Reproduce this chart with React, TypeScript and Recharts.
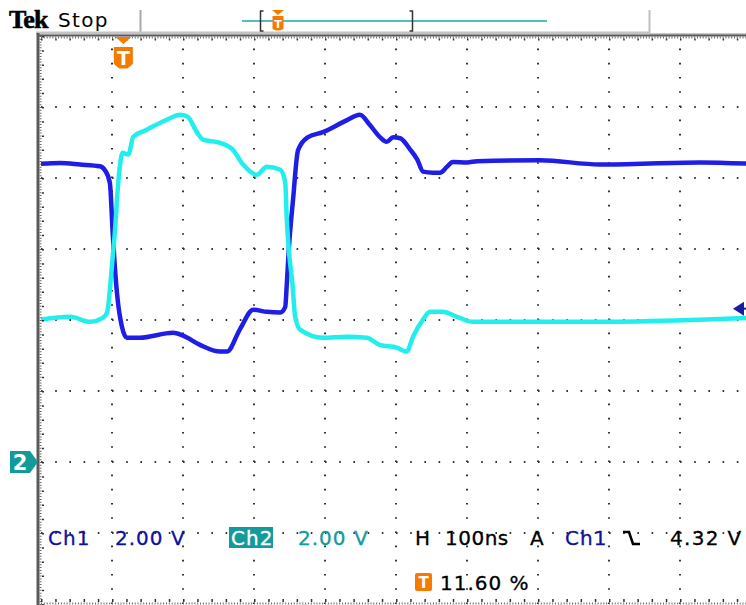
import React from "react";
import { LineChart, Line, XAxis, YAxis, ReferenceLine } from "recharts";

// Horizontal: 10 divisions at 100 ns/div. Vertical: both channels 2 V/div, ground 2 div below centre.
const TIME_TICKS_NS = [0, 100, 200, 300, 400, 500, 600, 700, 800, 900, 1000];
const VOLT_TICKS = [-4, -2, 0, 2, 4, 6, 8, 10, 12];

// Ch1 (blue) acquisition samples
const CH1_TIME_NS = [0, 27, 55, 83, 90, 97, 101, 104, 108, 114, 121, 139, 186, 200, 224, 252, 262, 280, 299, 318, 337, 344, 346, 349, 355, 362, 375, 397, 431, 449, 463, 477, 487, 496, 506, 520, 530, 538, 552, 562, 572, 580, 600, 614, 703, 787, 928, 1000];
const CH1_VOLTS = [8.4, 8.42, 8.38, 8.33, 8.22, 7.86, 6.45, 5.5, 4.57, 3.81, 3.5, 3.5, 3.64, 3.56, 3.3, 3.11, 3.11, 3.73, 4.29, 4.23, 4.21, 4.37, 4.94, 5.98, 7.39, 8.78, 9.14, 9.29, 9.63, 9.78, 9.5, 9.16, 9.02, 9.15, 9.12, 8.8, 8.52, 8.18, 8.15, 8.15, 8.32, 8.45, 8.44, 8.47, 8.5, 8.38, 8.44, 8.4];

// Ch2 (cyan) acquisition samples
const CH2_TIME_NS = [0, 41, 69, 87, 93, 97, 101, 104, 107, 111, 115, 123, 130, 149, 177, 196, 206, 220, 228, 252, 270, 285, 304, 318, 337, 344, 346, 349, 354, 358, 365, 397, 431, 459, 477, 501, 515, 524, 538, 548, 566, 586, 608, 787, 928, 1000];
const CH2_VOLTS = [4.01, 4.09, 3.95, 4.06, 4.21, 4.85, 5.78, 6.46, 7.39, 8.32, 8.71, 8.66, 9.16, 9.36, 9.64, 9.78, 9.73, 9.28, 9.08, 8.99, 8.8, 8.37, 8.09, 8.32, 8.23, 7.87, 6.91, 5.98, 5.05, 4.09, 3.73, 3.5, 3.53, 3.5, 3.3, 3.22, 3.11, 3.53, 4.01, 4.23, 4.23, 4.09, 3.95, 3.95, 4.01, 4.06];

// Readout settings
const CH1_SCALE = "2.00 V";
const CH2_SCALE = "2.00 V";
const TIMEBASE = "100ns";
const TRIGGER_SOURCE = "Ch1";
const TRIGGER_LEVEL_V = 4.32;
const TRIGGER_POSITION_PCT = 11.6;

const ch1Data = CH1_TIME_NS.map((t, i) => ({ t, v: CH1_VOLTS[i] }));
const ch2Data = CH2_TIME_NS.map((t, i) => ({ t, v: CH2_VOLTS[i] }));

// Screen geometry of the graticule
const W = 746;
const H = 605;
const PLOT_LEFT = 41;
const PLOT_TOP = 36;
const DIV = 71;
const PLOT_W = DIV * 10;
const PLOT_H = DIV * 8;
const vToY = (v: number) => PLOT_TOP + PLOT_H - ((v + 4) / 16) * PLOT_H;

const FONT = "'DejaVu Sans', Verdana, sans-serif";
const BLUE_TRACE = "#1e1ee6";
const CYAN_TRACE = "#22eeee";
const BLUE_TEXT = "#10109c";
const TEAL = "#139b9b";
const ORANGE = "#f57b00";
const DOT = 71 / 5;

function Overlay() {
  const trigX = PLOT_LEFT + (TRIGGER_POSITION_PCT / 100) * PLOT_W;
  const lvlY = vToY(TRIGGER_LEVEL_V);
  const gndY = vToY(0);
  const textStyle = { fontFamily: FONT, fontSize: 20, letterSpacing: 1, stroke: "currentColor", strokeWidth: 0.3 } as const;
  return (
    <svg width={W} height={H} style={{ position: "absolute", left: 0, top: 0, pointerEvents: "none" }}>
      {/* header */}
      <text x={9} y={28} fontFamily="'Liberation Serif', serif" fontWeight="bold" fontSize={26} letterSpacing={-0.8} fill="#000" stroke="#000" strokeWidth={0.6}>Tek</text>
      <text x={58} y={27} fontFamily={FONT} fontSize={20} letterSpacing={1.3} fill="#000">Stop</text>
      <line x1={140.5} y1={10} x2={140.5} y2={34} stroke="#a8a8a8" strokeWidth={2} />
      <line x1={649.5} y1={10} x2={649.5} y2={34} stroke="#c0c0c0" strokeWidth={2} />
      <line x1={36} y1={33} x2={649} y2={33} stroke="#c4c4c4" strokeWidth={3} />
      <line x1={649} y1={34} x2={W} y2={34} stroke="#c8c8c8" strokeWidth={2} />
      {/* record position bar */}
      <line x1={242} y1={21} x2={547} y2={21} stroke="#4fbfbf" strokeWidth={2} />
      <path d="M263.5 11 H260.5 V31 H263.5" fill="none" stroke="#333" strokeWidth={1.5} />
      <path d="M409.5 11 H412.5 V31 H409.5" fill="none" stroke="#333" strokeWidth={1.5} />
      <path d="M272 10 H284 L278 15 Z" fill={ORANGE} />
      <path d="M272.5 16 H283.5 V29 Q278 32 272.5 29 Z" fill={ORANGE} />
      <text x={278} y={28} textAnchor="middle" fontFamily={FONT} fontWeight="bold" fontSize={11} fill="#fff">T</text>

      {/* frame */}
      <line x1={38} y1={33} x2={38} y2={H} stroke="#5a5a5a" strokeWidth={3} />
      <line x1={38} y1={35.5} x2={W} y2={35.5} stroke="#5a5a5a" strokeWidth={2} />
      <line x1={40.5} y1={36} x2={40.5} y2={H} stroke="#666" strokeWidth={2} strokeDasharray="1 1.84" />
      <line x1={41} y1={37.5} x2={W} y2={37.5} stroke="#666" strokeWidth={2} strokeDasharray="1 1.84" />
      <line x1={43} y1={PLOT_TOP} x2={43} y2={H} stroke="#333" strokeWidth={2} strokeDasharray={`1.5 ${DOT - 1.5}`} />
      <line x1={PLOT_LEFT} y1={39.5} x2={W} y2={39.5} stroke="#333" strokeWidth={2} strokeDasharray={`1.5 ${DOT - 1.5}`} />
      <line x1={PLOT_LEFT} y1={603.5} x2={W} y2={603.5} stroke="#666" strokeWidth={2} strokeDasharray="1 1.84" />
      <line x1={PLOT_LEFT} y1={600.5} x2={W} y2={600.5} stroke="#333" strokeWidth={3} strokeDasharray={`1.5 ${DOT - 1.5}`} />

      {/* trigger position marker */}
      <path d={`M${trigX - 8} 37 H${trigX + 8} L${trigX} 44 Z`} fill={ORANGE} />
      <path d={`M${trigX - 9.5} 47 H${trigX + 9.5} V64 L${trigX + 4} 68.5 H${trigX - 4} L${trigX - 9.5} 64 Z`} fill={ORANGE} />
      <text x={trigX} y={65} textAnchor="middle" fontFamily={FONT} fontWeight="bold" fontSize={19} fill="#fff">T</text>

      {/* channel 2 ground marker */}
      <path d={`M10 ${gndY - 11} H30 L38 ${gndY} L30 ${gndY + 11} H10 Z`} fill={TEAL} />
      <text x={20} y={gndY + 8} textAnchor="middle" fontFamily={FONT} fontWeight="bold" fontSize={21} fill="#fff">2</text>

      {/* trigger level marker */}
      <path d={`M733 ${lvlY} L744 ${lvlY - 7} V${lvlY + 7} Z`} fill="#1a1aa8" />
      <line x1={740} y1={lvlY} x2={W} y2={lvlY} stroke="#1a1aa8" strokeWidth={2} />

      {/* readouts */}
      <g color={BLUE_TEXT}>
        <text x={48} y={545} {...textStyle} fill={BLUE_TEXT}>Ch1</text>
        <text x={115} y={545} {...textStyle} fill={BLUE_TEXT}>{CH1_SCALE}</text>
      </g>
      <rect x={229} y={527} width={44} height={21} fill={TEAL} />
      <g color="#fff">
        <text x={231} y={545} {...textStyle} fill="#fff">Ch2</text>
      </g>
      <g color={TEAL}>
        <text x={298} y={545} {...textStyle} fill={TEAL}>{CH2_SCALE}</text>
      </g>
      <g color="#000">
        <text x={415} y={545} {...textStyle} fill="#000">H</text>
        <text x={445} y={545} {...textStyle} letterSpacing={0.5} fill="#000">{TIMEBASE}</text>
        <text x={530} y={545} {...textStyle} fill="#000">A</text>
      </g>
      <g color={BLUE_TEXT}>
        <text x={565} y={545} {...textStyle} fill={BLUE_TEXT}>{TRIGGER_SOURCE}</text>
      </g>
      <path d="M623 532 H629 L633 544 H640" fill="none" stroke="#000" strokeWidth={2.5} />
      <g color="#000">
        <text x={670} y={545} {...textStyle} letterSpacing={1.3} fill="#000">{`${TRIGGER_LEVEL_V.toFixed(2)} V`}</text>
      </g>
      <rect x={415} y={573} width={17} height={18} rx={2} fill={ORANGE} />
      <text x={423.5} y={588} textAnchor="middle" fontFamily={FONT} fontWeight="bold" fontSize={15} fill="#fff">T</text>
      <g color="#000">
        <text x={440} y={590} {...textStyle} fill="#000">{`${TRIGGER_POSITION_PCT.toFixed(2)} %`}</text>
      </g>
    </svg>
  );
}

export default function App() {
  const dots = `1.6 ${DOT - 1.6}`;
  return (
    <div style={{ position: "absolute", left: 0, top: 0, width: W, height: H, overflow: "hidden", background: "#fff" }}>
      <div style={{ position: "absolute", left: 0, top: 0 }}>
        <LineChart
          width={PLOT_LEFT + PLOT_W + 9}
          height={H}
          margin={{ top: PLOT_TOP, right: 9, bottom: H - PLOT_TOP - PLOT_H, left: PLOT_LEFT }}
        >
          <XAxis type="number" dataKey="t" domain={[0, 1000]} ticks={TIME_TICKS_NS} hide allowDataOverflow />
          <YAxis type="number" dataKey="v" domain={[-4, 12]} ticks={VOLT_TICKS} hide allowDataOverflow />
          {VOLT_TICKS.slice(1, -1).map((v) => (
            <ReferenceLine key={`h${v}`} y={v} stroke="#333" strokeWidth={2} strokeDasharray={dots} />
          ))}
          {TIME_TICKS_NS.slice(1).map((t) => (
            <ReferenceLine key={`v${t}`} x={t} stroke="#333" strokeWidth={2} strokeDasharray={dots} />
          ))}
          <Line data={ch1Data} dataKey="v" type="monotoneX" stroke={BLUE_TRACE} strokeWidth={4.5} strokeLinejoin="round" dot={false} isAnimationActive={false} />
          <Line data={ch2Data} dataKey="v" type="monotoneX" stroke={CYAN_TRACE} strokeWidth={4.5} strokeLinejoin="round" dot={false} isAnimationActive={false} />
        </LineChart>
      </div>
      <Overlay />
    </div>
  );
}
